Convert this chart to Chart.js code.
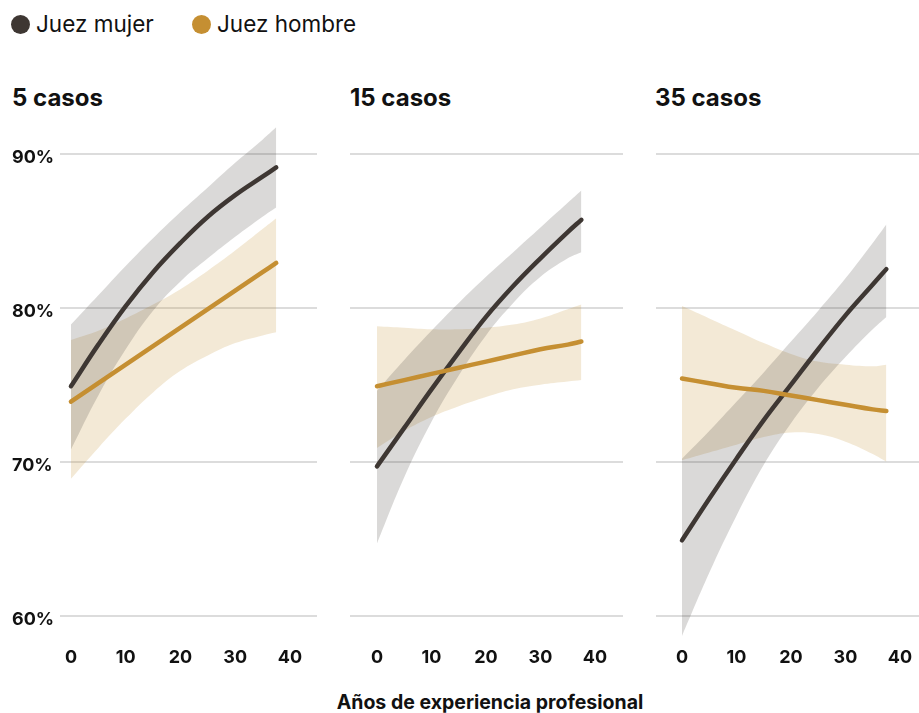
<!DOCTYPE html>
<html lang="es">

<head>
    <meta charset="UTF-8">
    <title>Juez mujer / Juez hombre</title>
    <script src="https://cdn.jsdelivr.net/npm/chart.js@4"></script>
    <style>
        body {
            margin: 0;
            width: 919px;
            height: 713px;
            position: relative;
            overflow: hidden;
            background: #fff;
            font-family: Inter, "DejaVu Sans", sans-serif;
            color: #111;
        }

        .item {
            position: absolute;
            top: 11px;
            display: flex;
            align-items: center;
            font-size: 22.5px;
            line-height: 26px;
        }

        .punto {
            width: 19px;
            height: 19px;
            border-radius: 50%;
            margin-right: 6px;
        }

        .titulo {
            position: absolute;
            top: 84px;
            font-weight: 700;
            font-size: 24px;
            line-height: 28px;
        }

        canvas {
            position: absolute;
            top: 100px;
        }

        .eje-x {
            position: absolute;
            top: 690px;
            left: 490px;
            transform: translateX(-50%);
            white-space: nowrap;
            font-weight: 700;
            font-size: 19.5px;
            line-height: 24px;
        }
    </style>
</head>

<body>
    <div class="item" style="left: 11px;"><span class="punto" style="background:#3e3733"></span>Juez mujer</div>
    <div class="item" style="left: 192px;"><span class="punto" style="background:#c58f32"></span>Juez hombre</div>

    <div class="titulo" style="left: 12px;" id="t0"></div>
    <div class="titulo" style="left: 350px;" id="t1"></div>
    <div class="titulo" style="left: 655px;" id="t2"></div>

    <canvas id="g0" width="317" height="580" style="left: 0px;"></canvas>
    <canvas id="g1" width="273" height="580" style="left: 350px;"></canvas>
    <canvas id="g2" width="263" height="580" style="left: 656px;"></canvas>

    <div class="eje-x">Años de experiencia profesional</div>

    <script>
        // años de experiencia donde se leyó cada valor
        const anios = [0, 5, 10, 15, 20, 25, 30, 35, 37.5];
        const titulos = ['5 casos', '15 casos', '35 casos'];
        const ticksX = [0, 10, 20, 30, 40];
        const ticksY = [60, 70, 80, 90];

        // 5 casos
        const mujer5 = [74.9, 77.6, 80.1, 82.3, 84.2, 85.9, 87.3, 88.5, 89.1];
        const mujer5Alto = [78.9, 80.8, 82.7, 84.5, 86.2, 87.8, 89.4, 90.9, 91.7];
        const mujer5Bajo = [70.8, 74.3, 77.3, 79.8, 81.7, 83.2, 84.6, 85.9, 86.5];
        const hombre5 = [73.9, 75.1, 76.3, 77.5, 78.7, 79.9, 81.1, 82.3, 82.9];
        const hombre5Alto = [77.9, 78.5, 79.3, 80.2, 81.2, 82.4, 83.7, 85.1, 85.8];
        const hombre5Bajo = [68.9, 70.9, 72.8, 74.5, 75.9, 76.9, 77.7, 78.2, 78.4];

        // 15 casos
        const mujer15 = [69.7, 72.2, 74.7, 77.1, 79.4, 81.4, 83.2, 84.9, 85.7];
        const mujer15Alto = [74.6, 76.6, 78.5, 80.3, 82.0, 83.6, 85.2, 86.8, 87.6];
        const mujer15Bajo = [64.7, 69.0, 72.6, 75.6, 78.2, 80.3, 82.0, 83.2, 83.6];
        const hombre15 = [74.9, 75.3, 75.7, 76.1, 76.5, 76.9, 77.3, 77.6, 77.8];
        const hombre15Alto = [78.8, 78.7, 78.6, 78.6, 78.7, 78.9, 79.3, 79.9, 80.2];
        const hombre15Bajo = [70.9, 72.0, 72.9, 73.6, 74.2, 74.7, 75.0, 75.2, 75.3];

        // 35 casos
        const mujer35 = [64.9, 67.6, 70.2, 72.7, 75.0, 77.3, 79.5, 81.5, 82.5];
        const mujer35Alto = [70.2, 72.0, 73.9, 75.8, 77.8, 79.8, 81.9, 84.2, 85.4];
        const mujer35Bajo = [58.7, 62.8, 66.5, 69.8, 72.5, 74.8, 76.8, 78.6, 79.4];
        const hombre35 = [75.4, 75.1, 74.8, 74.6, 74.3, 74.0, 73.7, 73.4, 73.3];
        const hombre35Alto = [80.1, 79.3, 78.5, 77.7, 77.0, 76.5, 76.3, 76.2, 76.3];
        const hombre35Bajo = [70.1, 70.6, 71.1, 71.6, 71.9, 71.8, 71.3, 70.5, 70.0];

        const colorMujer = '#3e3733';
        const colorHombre = '#c58f32';
        const bandaMujer = 'rgba(61, 54, 50, 0.19)';
        const bandaHombre = 'rgba(196, 143, 50, 0.2)';
        const fuente = 'Inter, "DejaVu Sans", sans-serif';

        function puntos(serie) {
            return anios.map(function (x, i) { return { x: x, y: serie[i] }; });
        }

        function linea(serie, color, orden) {
            return {
                data: puntos(serie),
                borderColor: color,
                borderWidth: 4.5,
                borderCapStyle: 'round',
                borderJoinStyle: 'round',
                pointRadius: 0,
                tension: 0.4,
                fill: false,
                order: orden
            };
        }

        function banda(serie, color, relleno, orden) {
            return {
                data: puntos(serie),
                borderWidth: 0,
                borderColor: 'rgba(0,0,0,0)',
                backgroundColor: color,
                pointRadius: 0,
                tension: 0.4,
                fill: relleno,
                order: orden
            };
        }

        function criarGrafico(id, s, xMin, xMax, conEtiquetas) {
            const datasets = [
                linea(s.hombre, colorHombre, 0),
                linea(s.mujer, colorMujer, 1),
                banda(s.mujerBajo, bandaMujer, false, 2),
                banda(s.mujerAlto, bandaMujer, 2, 3),
                banda(s.hombreBajo, bandaHombre, false, 4),
                banda(s.hombreAlto, bandaHombre, 4, 5)
            ];

            new Chart(document.getElementById(id), {
                type: 'line',
                data: { datasets: datasets },
                options: {
                    responsive: false,
                    animation: false,
                    layout: { padding: { top: 15, left: conEtiquetas ? 12 : 0, right: 0, bottom: 0 } },
                    plugins: { legend: { display: false }, tooltip: { enabled: false } },
                    scales: {
                        x: {
                            type: 'linear',
                            min: xMin,
                            max: xMax,
                            grid: { display: false },
                            border: { display: false },
                            afterBuildTicks: function (scale) {
                                scale.ticks = ticksX.map(function (v) { return { value: v }; });
                            },
                            afterFit: function (scale) { scale.height = 41; },
                            ticks: {
                                padding: 0,
                                maxRotation: 0,
                                color: '#111',
                                font: { family: fuente, size: 18, weight: 'bold' }
                            }
                        },
                        y: {
                            min: 58.5,
                            max: 92.5,
                            border: { display: false },
                            grid: { color: '#dcdcdc', lineWidth: 2, drawTicks: false },
                            afterBuildTicks: function (scale) {
                                scale.ticks = ticksY.map(function (v) { return { value: v }; });
                            },
                            afterFit: function (scale) { scale.width = conEtiquetas ? 48 : 0; },
                            ticks: {
                                display: conEtiquetas,
                                crossAlign: 'far',
                                labelOffset: 4,
                                color: '#111',
                                font: { family: fuente, size: 18, weight: 'bold' },
                                callback: function (v) { return v + '%'; }
                            }
                        }
                    }
                }
            });
        }

        titulos.forEach(function (t, i) { document.getElementById('t' + i).textContent = t; });

        criarGrafico('g0', {
            mujer: mujer5, mujerAlto: mujer5Alto, mujerBajo: mujer5Bajo,
            hombre: hombre5, hombreAlto: hombre5Alto, hombreBajo: hombre5Bajo
        }, -2.0, 44.95, true);

        criarGrafico('g1', {
            mujer: mujer15, mujerAlto: mujer15Alto, mujerBajo: mujer15Bajo,
            hombre: hombre15, hombreAlto: hombre15Alto, hombreBajo: hombre15Bajo
        }, -4.95, 45.14, false);

        criarGrafico('g2', {
            mujer: mujer35, mujerAlto: mujer35Alto, mujerBajo: mujer35Bajo,
            hombre: hombre35, hombreAlto: hombre35Alto, hombreBajo: hombre35Bajo
        }, -4.77, 43.49, false);
    </script>
</body>

</html>
